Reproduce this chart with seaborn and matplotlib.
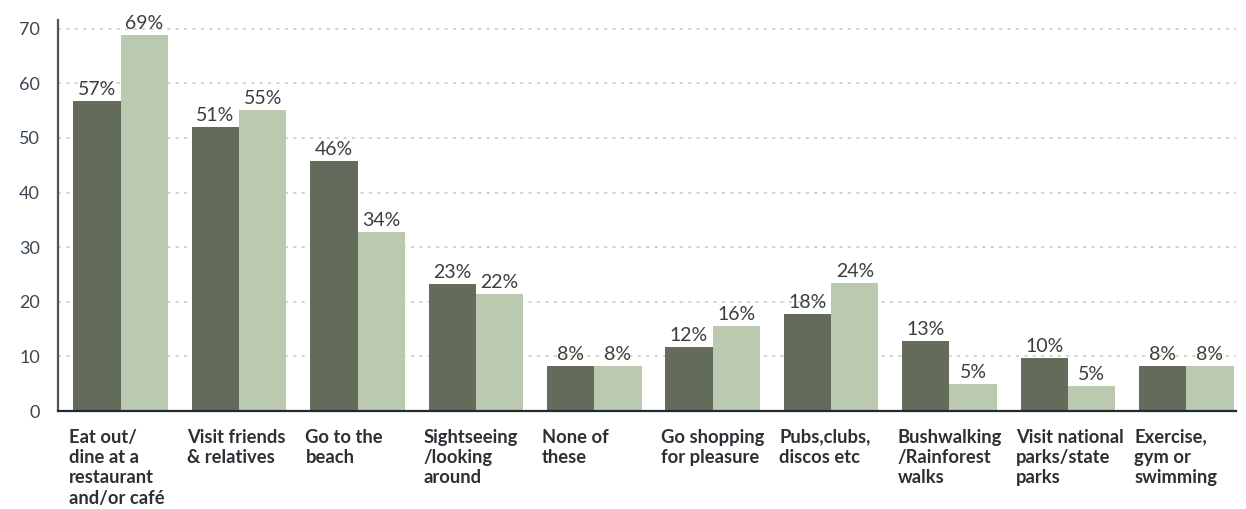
import matplotlib
matplotlib.use("Agg")
import matplotlib.pyplot as plt
import matplotlib.transforms as mtransforms
import seaborn as sns
import pandas as pd

categories = [
    "Eat out/\ndine at a\nrestaurant\nand/or café",
    "Visit friends\n& relatives",
    "Go to the\nbeach",
    "Sightseeing\n/looking\naround",
    "None of\nthese",
    "Go shopping\nfor pleasure",
    "Pubs,clubs,\ndiscos etc",
    "Bushwalking\n/Rainforest\nwalks",
    "Visit national\nparks/state\nparks",
    "Exercise,\ngym or\nswimming",
]
series_names = ["Series A", "Series B"]
values_a = [56.8, 52.0, 45.8, 23.3, 8.2, 11.7, 17.8, 12.8, 9.7, 8.2]
values_b = [68.9, 55.1, 32.8, 21.4, 8.2, 15.6, 23.4, 4.9, 4.6, 8.2]
labels_a = ["57%", "51%", "46%", "23%", "8%", "12%", "18%", "13%", "10%", "8%"]
labels_b = ["69%", "55%", "34%", "22%", "8%", "16%", "24%", "5%", "5%", "8%"]
y_ticks = [0, 10, 20, 30, 40, 50, 60, 70]

dark = "#636B5A"
light = "#BCC9B1"

sns.set_theme(style="white")
plt.rcParams["font.family"] = ["Lato", "DejaVu Sans"]

df = pd.DataFrame({
    "cat": list(range(len(categories))) * 2,
    "series": [series_names[0]] * len(categories) + [series_names[1]] * len(categories),
    "value": values_a + values_b,
})

fig = plt.figure(figsize=(12.46, 5.09), dpi=100)
ax = fig.add_axes([58 / 1246, 1 - 411 / 509, (1236 - 58) / 1246, (411 - 20) / 509])

sns.barplot(data=df, x="cat", y="value", hue="series", order=list(range(len(categories))),
            palette=[dark, light], width=0.8, dodge=True, ax=ax, legend=False,
            linewidth=0, saturation=1, zorder=3)

for container, labs in zip(ax.containers, [labels_a, labels_b]):
    ax.bar_label(container, labels=labs, padding=2, fontsize=14, color="#3A3F3A",
                 family=["Lato", "DejaVu Sans"])

ax.set_xlim(-0.53, len(categories) - 1 + 0.42)
ax.set_ylim(0, 71.6)
ax.set_yticks(y_ticks)
ax.set_yticklabels([str(t) for t in y_ticks], fontsize=13, color="#3B4650")
ax.tick_params(axis="y", length=0, pad=13)
ax.set_xticks([])
ax.set_xlabel("")
ax.set_ylabel("")

for t in y_ticks[1:]:
    ax.axhline(t, color="#C4CBB2", linestyle=(0, (2, 3.5)), linewidth=1.1, zorder=1)

for s in ["top", "right"]:
    ax.spines[s].set_visible(False)
ax.spines["left"].set_color("#4A5561")
ax.spines["left"].set_linewidth(1.6)
ax.spines["bottom"].set_color("#1F2A33")
ax.spines["bottom"].set_linewidth(1.6)
ax.spines["bottom"].set_zorder(5)

trans = mtransforms.blended_transform_factory(ax.transData, ax.transAxes)
for i, c in enumerate(categories):
    ax.text(i - 0.44, -0.045, c, transform=trans, ha="left", va="top",
            fontsize=13.2, fontweight="bold", color="#2B3035", linespacing=1.24)

fig.savefig("out.png", dpi=100)
